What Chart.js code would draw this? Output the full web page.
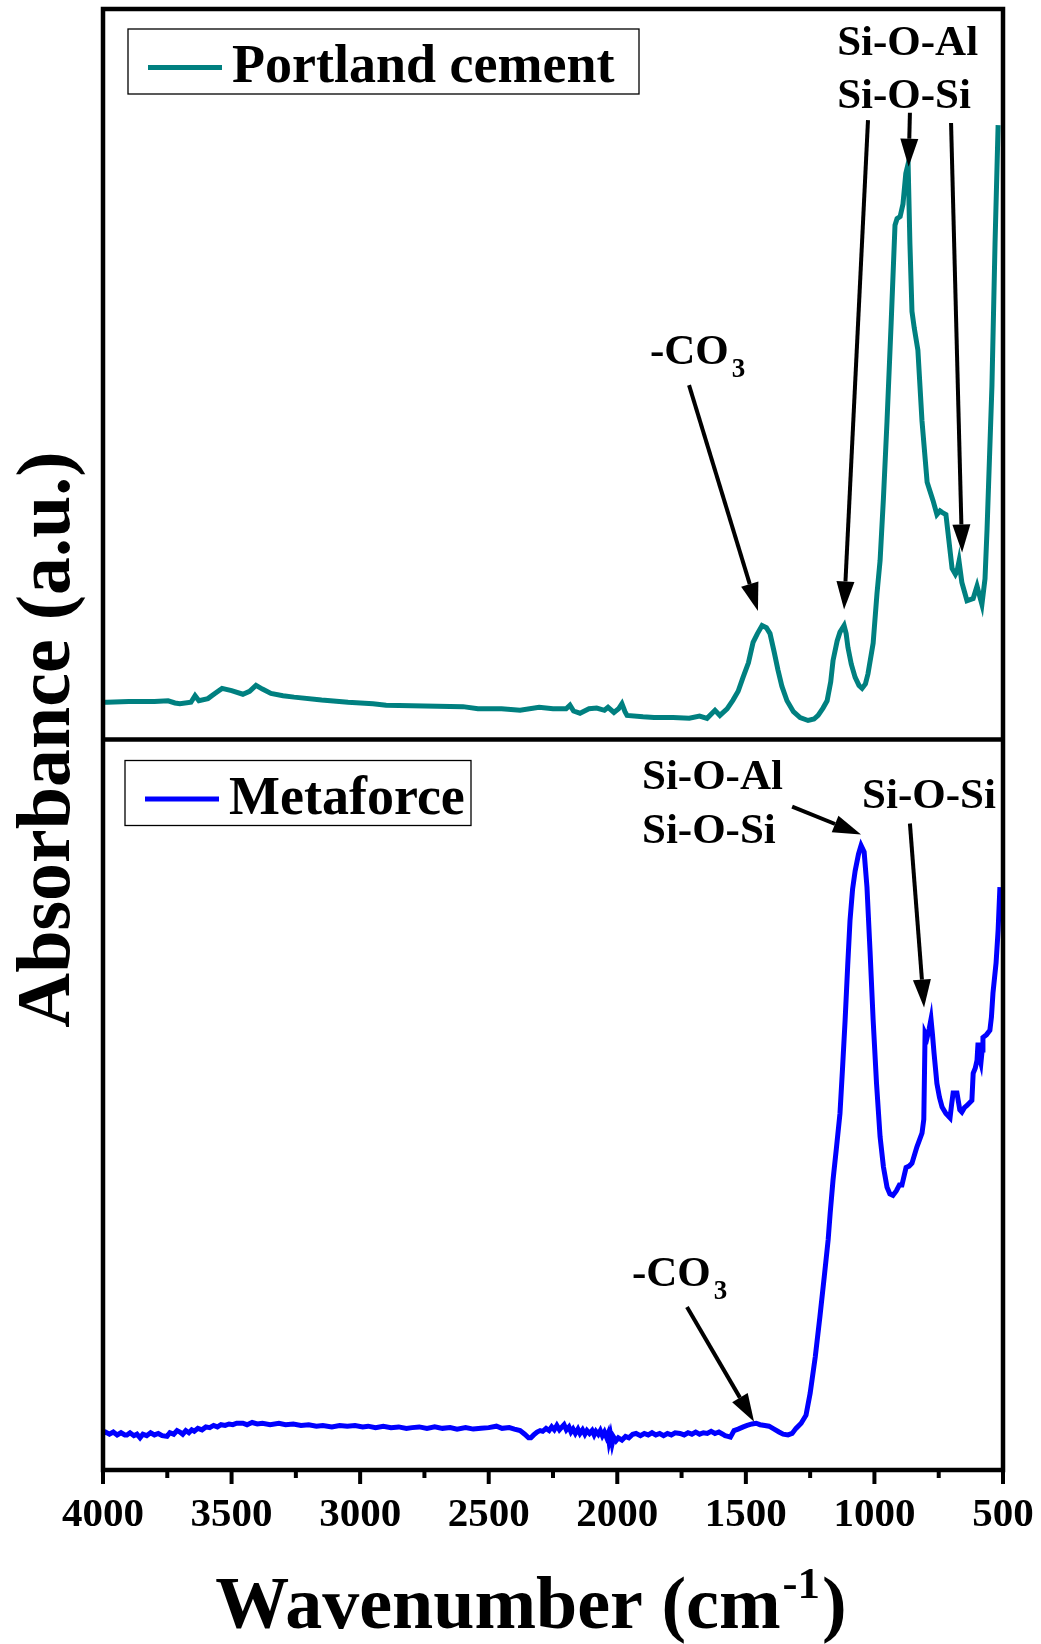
<!DOCTYPE html>
<html>
<head>
<meta charset="utf-8">
<title>FTIR spectra</title>
<script src="https://cdn.jsdelivr.net/npm/chart.js@4.4.1/dist/chart.umd.min.js"></script>
<style>
  html, body { margin: 0; padding: 0; background: #fff; }
  canvas { display: block; }
</style>
</head>
<body>
<canvas id="ftir" width="1041" height="1644"></canvas>
<script>
// Portland cement spectrum (wavenumber in cm-1, absorbance in a.u.)
const portlandWn = [4000, 3984, 3900, 3800, 3747, 3720, 3701, 3658, 3642, 3627, 3592, 3565, 3537, 3500, 3456, 3430, 3405, 3380, 3347, 3300,
  3257, 3150, 3047, 2950, 2899, 2750, 2600, 2542, 2450, 2378, 2304, 2250, 2199, 2184, 2170, 2145, 2110, 2080, 2050, 2036,
  2013, 1995, 1982, 1970, 1962, 1900, 1857, 1783, 1720, 1680, 1651, 1620, 1601, 1573, 1550, 1530, 1511, 1490, 1472, 1455,
  1437, 1420, 1406, 1390, 1375, 1360, 1340, 1315, 1289, 1258, 1235, 1219, 1200, 1184, 1170, 1161, 1145, 1134, 1118, 1110,
  1103, 1090, 1075, 1060, 1048, 1035, 1025, 1005, 990, 978, 965, 951, 935, 920, 912, 900, 889, 878, 869, 862,
  854, 845, 831, 815, 795, 772, 757, 745, 737, 722, 698, 685, 679, 671, 660, 640, 616, 601, 592, 582,
  570, 562, 543, 531, 519];
const portlandAbs = [5.1, 5.1, 5.2, 5.2, 5.3, 5.0, 4.9, 5.1, 6.0, 5.3, 5.6, 6.3, 7.0, 6.7, 6.2, 6.6, 7.4, 6.9, 6.3, 6.0,
  5.8, 5.4, 5.1, 4.9, 4.7, 4.6, 4.5, 4.2, 4.2, 4.0, 4.4, 4.2, 4.2, 4.7, 3.9, 3.6, 4.2, 4.3, 4.0, 4.4,
  3.7, 4.2, 4.9, 3.8, 3.3, 3.1, 3.0, 3.0, 2.9, 3.2, 2.9, 4.0, 3.3, 4.2, 5.4, 6.6, 8.5, 10.5, 13.3, 14.5,
  15.6, 15.3, 14.5, 12.0, 9.5, 7.3, 5.3, 3.8, 3.0, 2.6, 2.8, 3.3, 4.3, 5.3, 7.9, 10.8, 13.5, 14.7, 15.6, 14.5,
  12.6, 10.3, 8.5, 7.4, 7.0, 7.6, 9.0, 13.2, 20.0, 24.5, 33.0, 43.6, 57.0, 70.4, 71.3, 71.6, 73.3, 77.5, 78.8, 67.9,
  58.6, 56.3, 53.3, 43.6, 35.2, 32.7, 30.8, 31.3, 31.1, 30.8, 23.4, 22.6, 23.0, 24.4, 21.5, 19.0, 19.3, 21.0, 19.8, 18.5,
  22.0, 28.8, 48.4, 67.9, 84.1];

// Metaforce spectrum
const metaforceWn = [4000, 3990, 3975, 3960, 3945, 3930, 3915, 3907, 3895, 3880, 3868, 3856, 3845, 3830, 3815, 3800, 3785, 3770, 3751, 3740,
  3725, 3712, 3701, 3690, 3678, 3666, 3655, 3645, 3631, 3615, 3600, 3585, 3570, 3555, 3541, 3525, 3510, 3495, 3480, 3456,
  3440, 3420, 3400, 3380, 3350, 3316, 3290, 3260, 3230, 3200, 3170, 3145, 3110, 3080, 3050, 3020, 2990, 2969, 2940, 2910,
  2880, 2850, 2820, 2798, 2770, 2740, 2710, 2680, 2650, 2623, 2590, 2560, 2530, 2500, 2470, 2448, 2420, 2400, 2378, 2360,
  2345, 2336, 2325, 2312, 2300, 2290, 2277, 2265, 2255, 2245, 2235, 2225, 2215, 2207, 2198, 2188, 2180, 2172, 2163, 2153,
  2145, 2135, 2126, 2118, 2108, 2098, 2090, 2083, 2074, 2066, 2058, 2050, 2042, 2036, 2032, 2026, 2020, 2014, 2005, 1996,
  1982, 1968, 1955, 1940, 1927, 1910, 1895, 1880, 1865, 1850, 1835, 1820, 1805, 1790, 1775, 1756, 1740, 1725, 1710, 1695,
  1680, 1665, 1650, 1635, 1620, 1605, 1590, 1581, 1570, 1560, 1546, 1530, 1510, 1495, 1476, 1460, 1445, 1426, 1410, 1390,
  1371, 1355, 1336, 1320, 1305, 1285, 1266, 1250, 1230, 1212, 1195, 1180, 1172, 1161, 1148, 1134, 1124, 1114, 1104, 1095,
  1085, 1075, 1062, 1052, 1040, 1029, 1017, 1005, 992, 978, 965, 951, 940, 928, 915, 903, 893, 877, 865, 854,
  835, 815, 808, 803, 795, 787, 780, 774, 768, 757, 747, 737, 722, 706, 700, 694, 679, 668, 660, 650,
  640, 621, 616, 608, 601, 597, 592, 586, 581, 578, 564, 551, 545, 539, 527, 519, 512];
const metaforceAbs = [5.0, 5.2, 4.9, 5.2, 4.8, 5.1, 4.8, 4.8, 5.1, 4.7, 4.9, 4.4, 4.9, 4.7, 5.1, 4.8, 5.0, 4.7, 4.6, 5.1,
  4.9, 5.4, 5.2, 4.9, 5.4, 5.1, 5.5, 5.3, 5.7, 5.5, 5.9, 5.8, 6.1, 5.9, 6.2, 6.1, 6.3, 6.2, 6.4, 6.4,
  6.2, 6.5, 6.3, 6.4, 6.2, 6.4, 6.2, 6.3, 6.1, 6.2, 6.0, 6.1, 5.9, 6.1, 6.0, 6.1, 5.9, 6.0, 5.8, 6.0,
  5.8, 5.9, 5.7, 5.8, 5.9, 5.7, 5.9, 5.7, 5.8, 5.6, 5.8, 5.6, 5.7, 5.8, 6.0, 5.7, 5.8, 5.6, 5.4, 4.9,
  4.4, 4.4, 4.8, 5.2, 5.4, 5.3, 5.7, 5.4, 5.9, 5.5, 6.1, 5.5, 5.9, 6.2, 5.5, 5.9, 5.2, 5.6, 5.0, 5.6,
  5.0, 5.5, 4.9, 5.4, 5.0, 5.4, 4.8, 5.3, 4.9, 5.4, 4.7, 5.2, 4.5, 5.0, 3.9, 4.8, 3.6, 4.5, 4.0, 4.4,
  4.1, 4.6, 4.4, 4.9, 5.0, 4.7, 5.0, 4.8, 5.1, 4.8, 5.0, 4.7, 5.0, 4.8, 5.1, 5.0, 4.8, 5.1, 4.9, 5.2,
  4.9, 5.1, 5.0, 5.3, 5.0, 5.2, 4.9, 4.7, 4.6, 4.5, 5.4, 5.6, 5.9, 6.1, 6.3, 6.4, 6.2, 6.1, 6.0, 5.6,
  5.2, 4.9, 4.8, 5.0, 5.7, 6.4, 7.5, 10.5, 15.5, 21.0, 26.5, 31.5, 35.2, 39.7, 44.0, 48.8, 55.0, 61.6, 69.0, 75.2,
  79.5, 82.0, 84.3, 85.5, 84.6, 79.8, 71.0, 61.6, 53.0, 45.6, 41.5, 38.7, 37.8, 37.6, 38.2, 39.0, 39.0, 41.4, 41.6, 42.0,
  44.2, 46.1, 48.0, 59.8, 59.2, 60.4, 61.7, 59.5, 57.0, 52.9, 51.0, 49.7, 48.8, 48.2, 50.0, 51.6, 51.6, 49.3, 49.0, 49.6,
  49.9, 50.6, 54.3, 55.0, 56.1, 58.5, 56.5, 55.7, 57.5, 59.2, 59.6, 60.2, 62.0, 65.3, 69.4, 73.9, 79.8];

// x axis
const xTicks = [4000, 3500, 3000, 2500, 2000, 1500, 1000, 500];
const xMinorTicks = [3750, 3250, 2750, 2250, 1750, 1250, 750];

// band assignments: label text at (wavenumber, absorbance), arrows from -> to
const portlandLabels = [
  { text: 'Si-O-Al', x: 1145, y: 93.7 },
  { text: 'Si-O-Si', x: 1145, y: 86.4 },
  { text: '-CO', sub: '3', x: 1873, y: 51.4 }
];
const portlandArrows = [
  { from: [1721, 48.5], to: [1453, 17.6] },
  { from: [1025, 84.8], to: [1118, 17.8] },
  { from: [862, 85.8], to: [867, 78.4] },
  { from: [702, 84.4], to: [659, 25.6] }
];
const metaforceLabels = [
  { text: 'Si-O-Al', x: 1904, y: 93.2 },
  { text: 'Si-O-Si', x: 1904, y: 85.9 },
  { text: 'Si-O-Si', x: 1048, y: 90.6 },
  { text: '-CO', sub: '3', x: 1943, y: 25.2 }
];
const metaforceArrows = [
  { from: [1320, 90.8], to: [1052, 87.0] },
  { from: [862, 88.5], to: [807, 63.3] },
  { from: [1729, 22.3], to: [1468, 6.6] }
];

const serif = '"Liberation Serif", "Times New Roman", serif';
const TEAL = '#008080';
const BLUE = '#0000ff';

function toPoints(xs, ys) {
  return xs.map((x, i) => ({ x: x, y: ys[i] }));
}

function drawArrow(ctx, x1, y1, x2, y2) {
  const a = Math.atan2(y2 - y1, x2 - x1);
  const len = 28, half = 9;
  const bx = x2 - len * Math.cos(a), by = y2 - len * Math.sin(a);
  ctx.beginPath();
  ctx.moveTo(x1, y1);
  ctx.lineTo(bx, by);
  ctx.stroke();
  ctx.beginPath();
  ctx.moveTo(x2, y2);
  ctx.lineTo(bx + half * Math.sin(a), by - half * Math.cos(a));
  ctx.lineTo(bx - half * Math.sin(a), by + half * Math.cos(a));
  ctx.closePath();
  ctx.fill();
}

function drawNotes(ctx, xs, ys, labels, arrows) {
  ctx.fillStyle = '#000';
  ctx.strokeStyle = '#000';
  ctx.lineWidth = 4;
  ctx.textAlign = 'left';
  ctx.textBaseline = 'alphabetic';
  labels.forEach(l => {
    const px = xs.getPixelForValue(l.x), py = ys.getPixelForValue(l.y);
    ctx.font = 'bold 43px ' + serif;
    ctx.fillText(l.text, px, py);
    if (l.sub) {
      const w = ctx.measureText(l.text).width;
      ctx.font = 'bold 27px ' + serif;
      ctx.fillText(l.sub, px + w + 3, py + 13);
    }
  });
  arrows.forEach(a => {
    drawArrow(ctx, xs.getPixelForValue(a.from[0]), ys.getPixelForValue(a.from[1]),
      xs.getPixelForValue(a.to[0]), ys.getPixelForValue(a.to[1]));
  });
}

function drawLegend(ctx, left, top, w, h, color, text) {
  ctx.strokeStyle = '#000';
  ctx.lineWidth = 1.3;
  ctx.strokeRect(left, top, w, h);
  ctx.strokeStyle = color;
  ctx.lineWidth = 5;
  ctx.beginPath();
  ctx.moveTo(left + 20, top + h / 2 + 6);
  ctx.lineTo(left + 94, top + h / 2 + 6);
  ctx.stroke();
  ctx.fillStyle = '#000';
  ctx.font = 'bold 54px ' + serif;
  ctx.textAlign = 'left';
  ctx.textBaseline = 'alphabetic';
  ctx.fillText(text, left + 104, top + h - 12);
}

const framePlugin = {
  id: 'frame',
  afterDatasetsDraw(chart) {
    const { ctx, chartArea: area } = chart;
    const x = chart.scales.x, yTop = chart.scales.yTop, yBot = chart.scales.yBottom;
    ctx.save();

    // panel frames
    ctx.strokeStyle = '#000';
    ctx.lineWidth = 4.5;
    ctx.strokeRect(area.left, area.top, area.right - area.left, area.bottom - area.top);
    ctx.beginPath();
    ctx.moveTo(area.left, yTop.bottom);
    ctx.lineTo(area.right, yTop.bottom);
    ctx.stroke();

    // outward x ticks
    ctx.lineWidth = 4;
    xTicks.forEach(v => {
      const px = x.getPixelForValue(v);
      ctx.beginPath();
      ctx.moveTo(px, area.bottom);
      ctx.lineTo(px, area.bottom + 14);
      ctx.stroke();
    });
    xMinorTicks.forEach(v => {
      const px = x.getPixelForValue(v);
      ctx.beginPath();
      ctx.moveTo(px, area.bottom);
      ctx.lineTo(px, area.bottom + 8);
      ctx.stroke();
    });

    drawNotes(ctx, x, yTop, portlandLabels, portlandArrows);
    drawNotes(ctx, x, yBot, metaforceLabels, metaforceArrows);

    drawLegend(ctx, area.left + 25, area.top + 20, 511, 65, TEAL, 'Portland cement');
    drawLegend(ctx, area.left + 22, yBot.top + 21, 346, 65, BLUE, 'Metaforce');

    // axis titles
    ctx.fillStyle = '#000';
    ctx.font = 'bold 74px ' + serif;
    ctx.textBaseline = 'alphabetic';
    const t1 = 'Wavenumber (cm', sup = '-1', t2 = ')';
    const w1 = ctx.measureText(t1).width;
    const w3 = ctx.measureText(t2).width;
    ctx.font = 'bold 45px ' + serif;
    const w2 = ctx.measureText(sup).width;
    const tx = 529 - (w1 + w2 + w3) / 2;
    const ty = 1628;
    ctx.font = 'bold 74px ' + serif;
    ctx.textAlign = 'left';
    ctx.fillText(t1, tx, ty);
    ctx.font = 'bold 45px ' + serif;
    ctx.fillText(sup, tx + w1 + 2, ty - 30);
    ctx.font = 'bold 74px ' + serif;
    ctx.fillText(t2, tx + w1 + w2 + 4, ty);

    ctx.save();
    ctx.translate(69, (area.top + area.bottom) / 2);
    ctx.rotate(-Math.PI / 2);
    ctx.textAlign = 'center';
    ctx.font = 'bold 76px ' + serif;
    ctx.fillText('Absorbance (a.u.)', 0, 0);
    ctx.restore();

    ctx.restore();
  }
};

new Chart(document.getElementById('ftir'), {
  type: 'line',
  data: {
    datasets: [
      {
        label: 'Portland cement',
        data: toPoints(portlandWn, portlandAbs),
        yAxisID: 'yTop',
        borderColor: TEAL,
        borderWidth: 5,
        pointRadius: 0,
        tension: 0
      },
      {
        label: 'Metaforce',
        data: toPoints(metaforceWn, metaforceAbs),
        yAxisID: 'yBottom',
        borderColor: BLUE,
        borderWidth: 5,
        pointRadius: 0,
        tension: 0
      }
    ]
  },
  options: {
    responsive: false,
    animation: false,
    devicePixelRatio: 1,
    layout: { padding: { left: 103, right: 38, top: 9, bottom: 0 } },
    plugins: { legend: { display: false }, tooltip: { enabled: false } },
    scales: {
      x: {
        type: 'linear',
        reverse: true,
        min: 500,
        max: 4000,
        afterBuildTicks: s => { s.ticks = xTicks.map(v => ({ value: v })); },
        afterFit: s => { s.height = 174; },
        grid: { display: false, drawTicks: false },
        border: { display: false },
        ticks: {
          autoSkip: false,
          maxRotation: 0,
          padding: 0,
          color: '#000',
          font: { family: serif, size: 41, weight: 'bold', lineHeight: 2.2 },
          callback: v => String(v)
        }
      },
      yTop: {
        type: 'linear',
        position: 'left',
        stack: 'panels',
        stackWeight: 1,
        weight: 2,
        min: 0,
        max: 100,
        display: false
      },
      yBottom: {
        type: 'linear',
        position: 'left',
        stack: 'panels',
        stackWeight: 1,
        weight: 1,
        min: 0,
        max: 100,
        display: false
      }
    }
  },
  plugins: [framePlugin]
});
</script>
</body>
</html>
